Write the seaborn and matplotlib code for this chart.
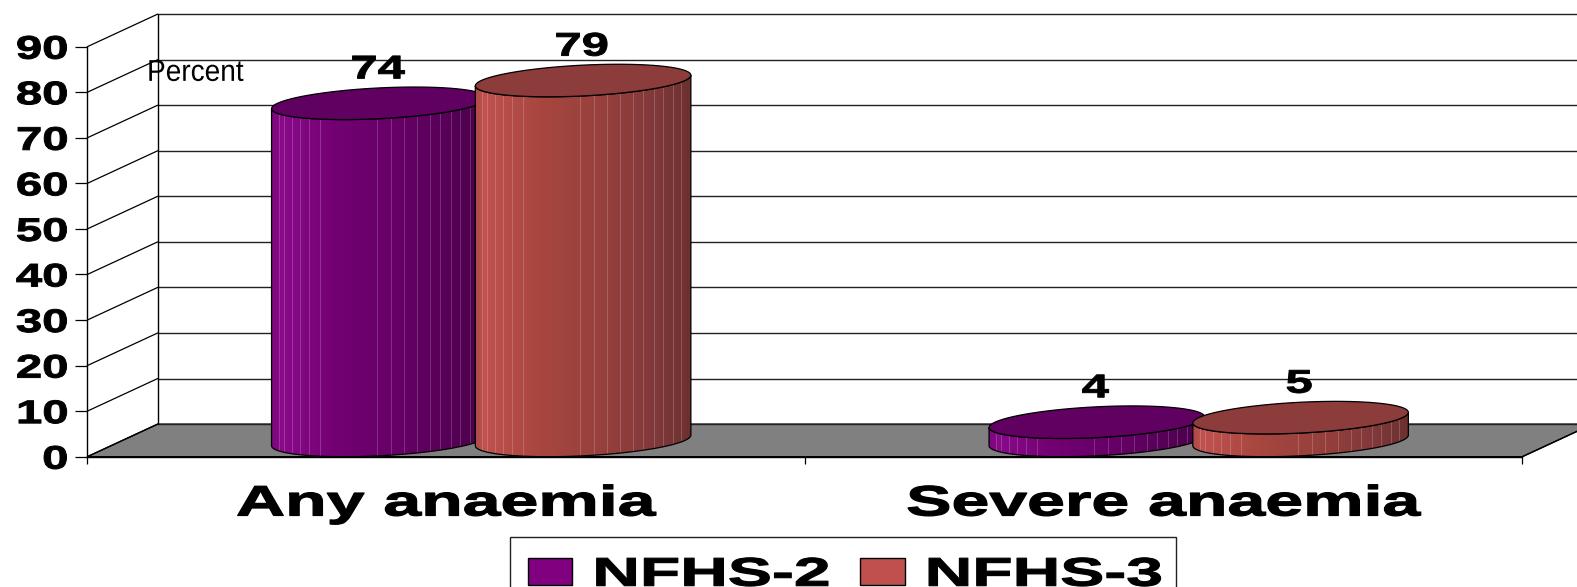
import numpy as np
import pandas as pd
import seaborn as sns
import matplotlib.pyplot as plt
from matplotlib.colors import LinearSegmentedColormap
from matplotlib.patches import Polygon, Rectangle
from matplotlib.patheffects import AbstractPathEffect
from matplotlib.transforms import Affine2D

categories = ['Any anaemia', 'Severe anaemia']
surveys = ['NFHS-2', 'NFHS-3']
nfhs2_values = [74, 4]
nfhs3_values = [79, 5]
y_ticks = [0, 10, 20, 30, 40, 50, 60, 70, 80, 90]

W, H = 1577, 587
PLUM = '#800080'
BRICK = '#C0504D'

# oblique depth of the fake 3d box, in data units
DEPTH_X = 0.098
DEPTH_Y = 7.15

plum_shades = ['#7c087c', '#8a0a8a', '#720072', '#650065', '#550055', '#480048']
brick_shades = ['#ad4a48', '#c0524f', '#a8463f', '#96403d', '#80383a', '#6c302f']
shade_stops = [0, 0.04, 0.3, 0.6, 0.85, 1]
stripes = [.035, .058, .096, .131, .173, .222, .49, .553, .612, .673, .73, .783, .832, .875, .92, .958]


class Stretch(AbstractPathEffect):
    # the original font is much wider (or narrower) than anything installed
    def __init__(self, sx, anchor='center', bold=0):
        super().__init__()
        self.sx = sx
        self.anchor = anchor
        self.bold = bold

    def draw_path(self, renderer, gc, tpath, affine, rgbFace=None):
        box = tpath.get_extents(affine)
        x0 = {'left': box.x0, 'center': (box.x0 + box.x1) / 2, 'right': box.x1}[self.anchor]
        stretched = affine + Affine2D().translate(-x0, 0).scale(self.sx, 1).translate(x0, 0)
        gc0 = renderer.new_gc()
        gc0.copy_properties(gc)
        gc0.set_linewidth(self.bold)
        gc0.set_foreground('black')
        renderer.draw_path(gc0, tpath, stretched, rgbFace)
        gc0.restore()


def ellipse_arc(center, half_width, base, start, stop):
    t = np.linspace(start, stop, 80)
    x = center + half_width * np.cos(t) + DEPTH_X / 2 * np.sin(t)
    y = base + DEPTH_Y / 2 + DEPTH_Y / 2 * np.sin(t)
    return np.column_stack([x, y])


def gradient_image(shades):
    cmap = LinearSegmentedColormap.from_list('body', list(zip(shade_stops, shades)))
    n = 218
    img = cmap(np.linspace(0, 1, n))[:, :3]
    for s in stripes:
        i = int(s * n)
        img[i:i + 1] = img[i:i + 1] * 0.82 + 0.18
    return img[np.newaxis, :, :]


def cylinder(ax, bar, shades, top_color, z):
    value = bar.get_height()
    half = bar.get_width() / 2
    center = bar.get_x() + half + DEPTH_X / 2
    t0 = np.arctan2(DEPTH_X / 2, half)
    reach = np.hypot(half, DEPTH_X / 2)

    low = ellipse_arc(center, half, 0, t0 + np.pi, t0 + 2 * np.pi)
    high = ellipse_arc(center, half, value, t0 + 2 * np.pi, t0 + np.pi)
    outline = Polygon(np.vstack([low, high]), closed=True, facecolor='none',
                      edgecolor='black', lw=0.9, zorder=z + 0.1)
    ax.add_patch(outline)
    img = ax.imshow(gradient_image(shades), aspect='auto', interpolation='nearest', zorder=z,
                    extent=[center - reach, center + reach, 0, value + DEPTH_Y])
    img.set_clip_path(outline)

    top = ellipse_arc(center, half, value, 0, 2 * np.pi)
    ax.add_patch(Polygon(top, closed=True, facecolor=top_color, edgecolor='black', lw=0.9, zorder=z + 0.2))
    ax.text(center - 0.002, value + DEPTH_Y + 1.9, f'{value:.0f}', ha='center', va='baseline',
            fontsize=23.5, fontweight='bold', zorder=8, path_effects=[Stretch(1.5, bold=0.7)])


df = pd.DataFrame({
    'category': categories * 2,
    'survey': [surveys[0]] * 2 + [surveys[1]] * 2,
    'value': nfhs2_values + nfhs3_values,
})

sns.set_style('white')
plt.rcParams['font.family'] = ['Liberation Sans', 'DejaVu Sans']
plt.rcParams['text.color'] = 'black'

fig = plt.figure(figsize=(W / 100, H / 100), dpi=100)
ax = fig.add_axes([87.3 / W, (H - 456.7) / H, 1435 / W, 410 / H])
sns.barplot(data=df, x='category', y='value', hue='survey', palette=[PLUM, BRICK],
            width=0.568, gap=0, saturation=1, ax=ax)

# legend first, it copies the bar colours before the flat bars get hidden
leg = ax.legend(loc='upper left', bbox_to_anchor=(509.6 / W, 1 - 537.3 / H), bbox_transform=fig.transFigure,
                ncols=2, frameon=False, fontsize=28.8, borderaxespad=0, borderpad=0.46,
                handlelength=1.11, handleheight=0.68, handletextpad=0.54, columnspacing=3.05)
for handle in leg.legend_handles:
    handle.set_edgecolor('black')
    handle.set_linewidth(1)
for t in leg.get_texts():
    t.set_fontweight('bold')
    t.set_color('black')
    t.set_path_effects([Stretch(1.65, 'left', bold=0.8)])
fig.add_artist(Rectangle((509.6 / W, -0.02), (1176 - 509.6) / W, 1 - 537.3 / H + 0.02,
                         transform=fig.transFigure, facecolor='none', edgecolor='#222222', lw=1))

ax.set_xlim(-0.5, 1.5)
ax.set_ylim(0, 90)

# back wall, side wall and floor
left, right = -0.5, 1.5
ax.add_patch(Polygon([(left, 0), (right, 0), (right + DEPTH_X, DEPTH_Y), (left + DEPTH_X, DEPTH_Y)],
                     closed=True, facecolor='#808080', edgecolor='black', lw=1, clip_on=False, zorder=1))
for v in y_ticks:
    ax.plot([left, left + DEPTH_X], [v, v + DEPTH_Y], color='black', lw=0.9, clip_on=False, zorder=2)
    ax.plot([left + DEPTH_X, right + DEPTH_X], [v + DEPTH_Y, v + DEPTH_Y], color='#222222', lw=1,
            clip_on=False, zorder=2)
ax.plot([left + DEPTH_X] * 2, [DEPTH_Y, 90 + DEPTH_Y], color='black', lw=1, clip_on=False, zorder=2)
ax.plot([right, right + DEPTH_X], [0, DEPTH_Y], color='black', lw=0.9, clip_on=False, zorder=2)

for z, (container, shades, top_color) in enumerate(zip(ax.containers, [plum_shades, brick_shades],
                                                       ['#600060', '#8c3c3a'])):
    for bar in container:
        cylinder(ax, bar, shades, top_color, 4 + z)
        bar.set_visible(False)

ax.set_xlim(-0.5, 1.5)
ax.set_ylim(0, 90)
ax.set_xlabel('')
ax.set_ylabel('')

sns.despine(ax=ax, top=True, right=True)
for side in ['left', 'bottom']:
    ax.spines[side].set_color('black')
    ax.spines[side].set_linewidth(1)
    ax.spines[side].set_zorder(6)

ax.set_yticks(y_ticks)
ax.tick_params(axis='y', length=8.5, width=0.9, color='black', pad=5.5, left=True)
for label in ax.get_yticklabels():
    label.set_fontsize(23.5)
    label.set_fontweight('bold')
    label.set_color('black')
    label.set_path_effects([Stretch(1.45, 'right', bold=0.7)])

ax.set_xticks([0, 1], categories)
ax.set_xticks([-0.5, 0.5, 1.5], minor=True)
ax.tick_params(axis='x', which='major', length=0, pad=20)
ax.tick_params(axis='x', which='minor', length=5, width=0.9, color='black', bottom=True)
for label in ax.get_xticklabels():
    label.set_fontsize(30.6)
    label.set_fontweight('bold')
    label.set_color('black')
    label.set_path_effects([Stretch(1.6, bold=0.9)])

ax.text(-0.417, 82.5, 'Percent', ha='left', va='baseline', fontsize=21.7, color='black',
        zorder=8, path_effects=[Stretch(0.93, 'left')])

fig.savefig('out.png', dpi=100)
